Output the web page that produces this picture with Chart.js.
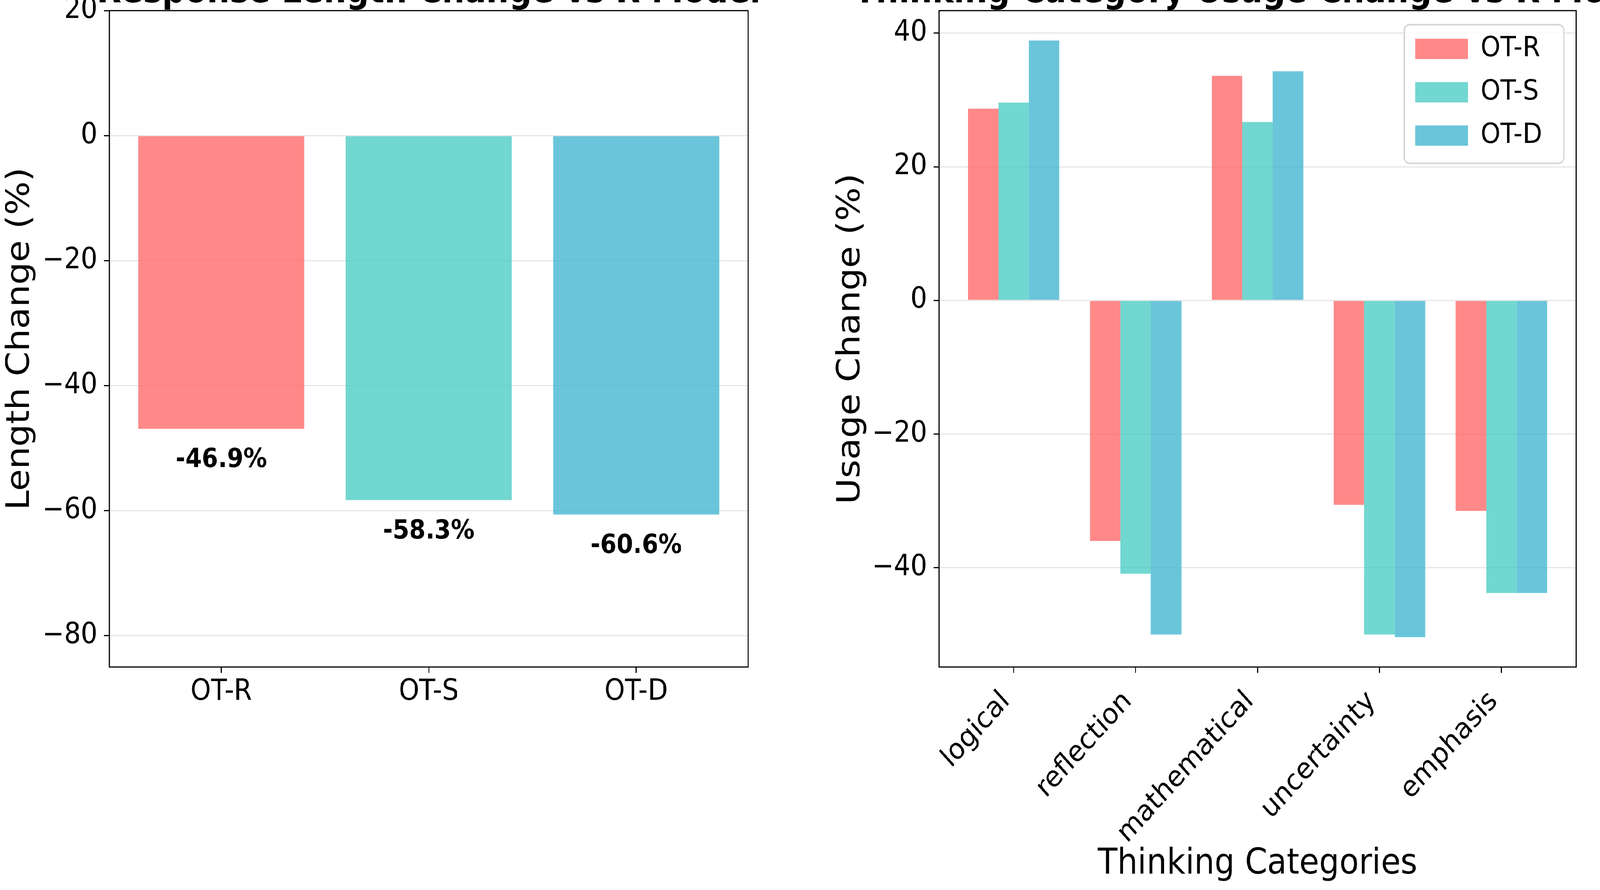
<!DOCTYPE html>
<html>
<head>
<meta charset="utf-8">
<script src="https://cdn.jsdelivr.net/npm/chart.js@4.4.1/dist/chart.umd.min.js"></script>
<style>
  html, body { margin: 0; padding: 0; background: #fff; overflow: hidden; }
  #clip { position: relative; overflow: hidden; background: #fff; }
  #stage { position: absolute; left: 0; top: 0; width: 4553px; height: 2279px; transform-origin: 0 0; }
  canvas { position: absolute; top: 0; }
  #right { left: 2300px; }
  #left { left: 0; }
</style>
</head>
<body>
<div id="clip"><div id="stage">
<canvas id="right" width="2556" height="2279"></canvas>
<canvas id="left" width="2440" height="2279"></canvas>
</div></div>
<script>
// data
var models = ['OT-R', 'OT-S', 'OT-D'];
var lengthChange = [-46.9, -58.3, -60.6];
var lengthTicks = [20, 0, -20, -40, -60, -80];

var categories = ['logical', 'reflection', 'mathematical', 'uncertainty', 'emphasis'];
var usageOTR = [28.7, -36.0, 33.6, -30.6, -31.5];
var usageOTS = [29.6, -40.9, 26.7, -50.0, -43.8];
var usageOTD = [38.9, -50.0, 34.3, -50.4, -43.8];
var usageTicks = [40, 20, 0, -20, -40];

var colors = ['rgba(255,107,107,0.8)', 'rgba(78,205,196,0.8)', 'rgba(69,183,209,0.8)'];

// laid out in reference pixels (4553x2279), then fitted to the window
var W = 4553, H = 2279;
var sx = window.innerWidth / W, sy = window.innerHeight / H;
var clip = document.getElementById('clip');
clip.style.width = window.innerWidth + 'px';
clip.style.height = window.innerHeight + 'px';
document.getElementById('stage').style.transform = 'scale(' + sx + ',' + sy + ')';
var pixelRatio = (window.devicePixelRatio || 1) * Math.max(sx, sy);

Chart.defaults.font.family = '"DejaVu Sans"';
Chart.defaults.color = '#000';

function minus(v) {
    return String(v).replace('-', '\u2212');
}
function points(values) {
    return values.map(function (v, i) { return { x: i, y: v }; });
}
function noPad(s) {
    s.paddingTop = 0; s.paddingBottom = 0; s.paddingLeft = 0; s.paddingRight = 0;
}

// black box round the plot area, like the matplotlib spines
var framePlugin = {
    id: 'frame',
    afterDraw: function (chart) {
        var a = chart.chartArea, ctx = chart.ctx;
        ctx.save();
        ctx.strokeStyle = '#000';
        ctx.lineWidth = 3;
        ctx.strokeRect(a.left, a.top, a.right - a.left, a.bottom - a.top);
        ctx.restore();
    }
};

var valueLabels = {
    id: 'valueLabels',
    afterDatasetsDraw: function (chart) {
        var ctx = chart.ctx, meta = chart.getDatasetMeta(0), y = chart.scales.y;
        ctx.save();
        ctx.font = 'bold 67px "DejaVu Sans"';
        ctx.fillStyle = '#000';
        ctx.textAlign = 'center';
        ctx.textBaseline = 'middle';
        meta.data.forEach(function (bar, i) {
            var v = lengthChange[i];
            ctx.fillText(v.toFixed(1) + '%', bar.x, y.getPixelForValue(v - 5.05));
        });
        ctx.restore();
    }
};

// put the legend inside the plot, top right, with a rounded frame
var legendInside = {
    id: 'legendInside',
    afterLayout: function (chart) {
        var lg = chart.legend, a = chart.chartArea;
        if (!lg) return;
        lg.left = a.right - 497;
        lg.right = a.right;
        lg.top = a.top + 23;
        lg.bottom = a.bottom;
        if (!lg._framed) {
            var orig = lg.draw;
            lg.draw = function () {
                var ctx = chart.ctx, ca = chart.chartArea;
                ctx.save();
                ctx.beginPath();
                ctx.roundRect(ca.right - 489, ca.top + 36, 454, 355, 15);
                ctx.fillStyle = 'rgba(255,255,255,0.8)';
                ctx.fill();
                ctx.lineWidth = 4;
                ctx.strokeStyle = '#d5d5d5';
                ctx.stroke();
                ctx.restore();
                orig.apply(this, arguments);
            };
            lg._framed = true;
        }
    }
};

function titleOpts(text) {
    return {
        display: true,
        text: text,
        color: '#000',
        font: { size: 91, weight: 'bold' },
        padding: { top: -72, bottom: -10 }
    };
}

function yScale(min, max, tickValues, label, width, titlePad) {
    return {
        type: 'linear',
        min: min,
        max: max,
        afterBuildTicks: function (s) {
            s.ticks = tickValues.map(function (v) { return { value: v }; });
        },
        afterFit: function (s) { s.width = width; noPad(s); },
        ticks: { font: { size: 74 }, padding: 19, autoSkip: false, callback: minus },
        grid: { color: '#e6e6e6', lineWidth: 3, tickColor: '#000', tickWidth: 3, tickLength: 15 },
        border: { display: false },
        title: { display: true, text: label, font: { size: 91 }, padding: { top: titlePad, bottom: 0 } }
    };
}

// empty axis on the right so the title centres over the plot
function spacer(width) {
    return {
        type: 'linear',
        position: 'right',
        display: true,
        grid: { display: false, drawTicks: false },
        ticks: { display: false },
        border: { display: false },
        afterFit: function (s) { s.width = width; noPad(s); }
    };
}

function xScale(min, max, labels, extra) {
    var s = {
        type: 'linear',
        min: min,
        max: max,
        offset: false,
        afterBuildTicks: function (sc) {
            sc.ticks = labels.map(function (l, i) { return { value: i }; });
        },
        afterFit: function (sc) { sc.height = 571; noPad(sc); },
        ticks: { font: { size: 74 }, padding: 5, autoSkip: false, maxRotation: 0, minRotation: 0,
            callback: function (v) { return labels[v]; } },
        grid: { display: true, offset: false, drawOnChartArea: false, drawTicks: true,
            tickColor: '#000', tickWidth: 3, tickLength: 15 },
        border: { display: false }
    };
    if (extra) extra(s);
    return s;
}

new Chart(document.getElementById('left'), {
    type: 'bar',
    data: {
        datasets: [{
            label: 'Length Change',
            data: points(lengthChange),
            backgroundColor: colors,
            borderWidth: 0,
            barPercentage: 1,
            categoryPercentage: 0.8
        }]
    },
    options: {
        responsive: false,
        animation: false,
        devicePixelRatio: pixelRatio,
        layout: { padding: 0 },
        plugins: {
            legend: { display: false },
            tooltip: { enabled: false },
            title: titleOpts('Response Length Change vs R Model')
        },
        scales: {
            x: xScale(-0.54, 2.54, models),
            y: yScale(-85, 20, lengthTicks, 'Length Change (%)', 311, 4),
            y2: spacer(311)
        }
    },
    plugins: [valueLabels, framePlugin]
});

var usageSeries = [usageOTR, usageOTS, usageOTD];

new Chart(document.getElementById('right'), {
    type: 'bar',
    data: {
        datasets: models.map(function (m, k) {
            return {
                label: m,
                data: points(usageSeries[k]),
                backgroundColor: colors[k],
                borderWidth: 0,
                barPercentage: 1,
                categoryPercentage: 0.75
            };
        })
    },
    options: {
        responsive: false,
        animation: false,
        devicePixelRatio: pixelRatio,
        layout: { padding: 0 },
        plugins: {
            legend: {
                display: true,
                position: 'chartArea',
                align: 'start',
                labels: { boxWidth: 150, boxHeight: 52, padding: 39, font: { size: 72 }, color: '#000' }
            },
            tooltip: { enabled: false },
            title: titleOpts('Thinking Category Usage Change vs R Model')
        },
        scales: {
            x: xScale(-0.6125, 4.6125, categories, function (s) {
                s.ticks.maxRotation = 45;
                s.ticks.minRotation = 45;
                s.ticks.padding = 30;
                s.ticks.labelOffset = -22;
                s.title = { display: true, text: 'Thinking Categories', font: { size: 91 }, padding: { top: 0, bottom: 11 } };
            }),
            y: yScale(-54.87, 43.37, usageTicks, 'Usage Change (%)', 372, 68),
            y2: spacer(371)
        }
    },
    plugins: [legendInside, framePlugin]
});
</script>
</body>
</html>
